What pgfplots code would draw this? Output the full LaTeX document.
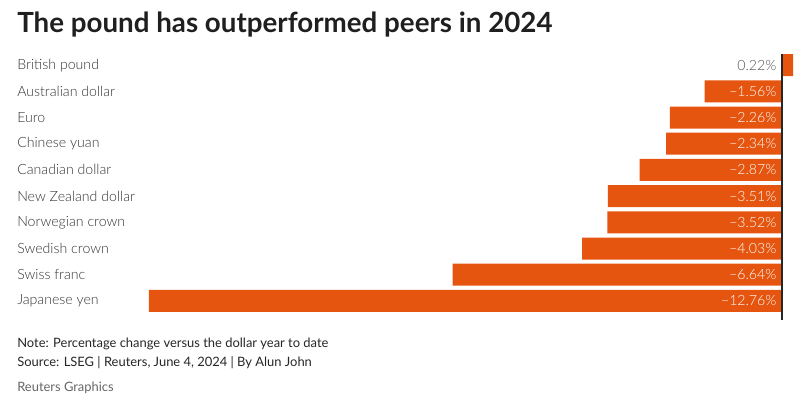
\documentclass[border=0pt]{standalone}
\usepackage{fontspec}
\setmainfont{Lato}
\newfontfamily\lightfont{Lato Light}
\usepackage{pgfplots}
\pgfplotsset{compat=1.18}
\definecolor{barorange}{HTML}{E5550F}
\definecolor{labelgrey}{HTML}{333333}

\begin{document}
\begin{tikzpicture}
\path[use as bounding box] (0,0) rectangle (803*0.75pt,-403*0.75pt);
\node[anchor=base west, inner sep=0, font=\bfseries\fontsize{20.8}{23}\selectfont, text=black!88]
  at (17*0.75pt,-33*0.75pt) {The pound has outperformed peers in 2024};

\begin{axis}[
    at={(17*0.75pt,-52*0.75pt)}, anchor=north west,
    scale only axis,
    width=778*0.75pt, height=262*0.75pt,
    xmin=-15.42, xmax=0.26,
    ymin=-0.5, ymax=9.5, y dir=reverse,
    axis line style={draw=none},
    xtick=\empty,
    ytick={0,...,9},
    yticklabels={British pound, Australian dollar, Euro, Chinese yuan, Canadian dollar,
      New Zealand dollar, Norwegian crown, Swedish crown, Swiss franc, Japanese yen},
    major tick length=0pt,
    yticklabel style={anchor=west, inner sep=0pt, text=labelgrey,
      font=\lightfont\fontsize{10.6}{12}\selectfont},
    clip=false,
]
\addplot[xbar, bar width=22*0.75pt, bar shift=0pt, fill=barorange, draw=none]
  coordinates {(0.22,0) (-1.56,1) (-2.26,2) (-2.34,3) (-2.87,4)
               (-3.51,5) (-3.52,6) (-4.03,7) (-6.64,8) (-12.76,9)};
% value labels, right aligned next to the zero line
\addplot[draw=none, mark=none, nodes near coords, point meta=explicit symbolic,
  nodes near coords style={anchor=east, inner sep=0pt, text=labelgrey!85,
    font=\lightfont\fontsize{10.6}{12}\selectfont}]
  coordinates {(-0.11,0) [0.22\%]};
\addplot[draw=none, mark=none, nodes near coords, point meta=explicit symbolic,
  nodes near coords style={anchor=east, inner sep=0pt, text=white,
    font=\lightfont\fontsize{10.6}{12}\selectfont}]
  coordinates {(-0.11,1) [−1.56\%] (-0.11,2) [−2.26\%] (-0.11,3) [−2.34\%]
               (-0.11,4) [−2.87\%] (-0.11,5) [−3.51\%] (-0.11,6) [−3.52\%]
               (-0.11,7) [−4.03\%] (-0.11,8) [−6.64\%] (-0.11,9) [−12.76\%]};
\draw[black!85, line width=1.1pt] (axis cs:0,-0.42) -- (axis cs:0,9.73);
\end{axis}

\node[anchor=base west, inner sep=0, font=\fontsize{9.7}{11}\selectfont, text=black!85]
  at (17*0.75pt,-347*0.75pt) {Note: Percentage change versus the dollar year to date};
\node[anchor=base west, inner sep=0, font=\fontsize{9.7}{11}\selectfont, text=black!85]
  at (17*0.75pt,-366*0.75pt) {Source: LSEG | Reuters, June 4, 2024 | By Alun John};
\node[anchor=base west, inner sep=0, font=\fontsize{9.7}{11}\selectfont, text=black!60]
  at (17*0.75pt,-391*0.75pt) {Reuters Graphics};
\end{tikzpicture}
\end{document}
